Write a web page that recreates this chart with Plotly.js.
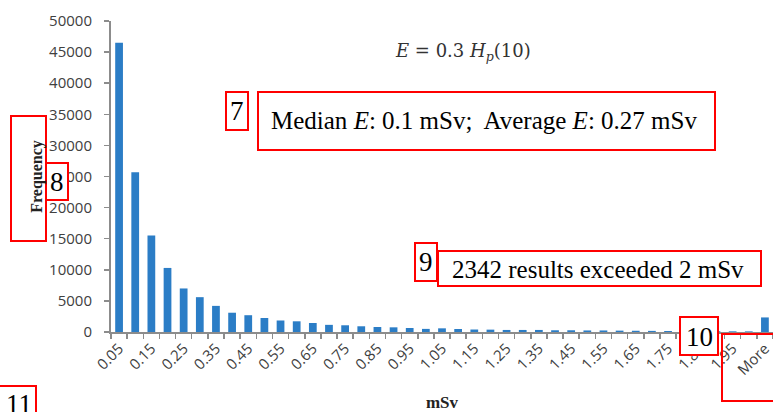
<!DOCTYPE html>
<html>
<head>
<meta charset="utf-8">
<script src="https://cdn.plot.ly/plotly-3.0.1.min.js"></script>
<style>html,body{margin:0;padding:0;background:#fff;}#chart{width:773px;height:412px;}</style>
</head>
<body>
<div id="chart"></div>
<script>
// Histogram bins (mSv) and frequencies
var categories = ['0.05','0.1','0.15','0.2','0.25','0.3','0.35','0.4','0.45','0.5',
  '0.55','0.6','0.65','0.7','0.75','0.8','0.85','0.9','0.95','1',
  '1.05','1.1','1.15','1.2','1.25','1.3','1.35','1.4','1.45','1.5',
  '1.55','1.6','1.65','1.7','1.75','1.8','1.85','1.9','1.95','2','More'];
var frequency = [46500, 25700, 15500, 10300, 7000, 5600, 4200, 3100, 2700, 2250,
  1850, 1720, 1450, 1150, 1080, 920, 800, 750, 640, 500,
  590, 480, 400, 380, 330, 330, 330, 280, 280, 250,
  250, 220, 200, 180, 160, 150, 130, 120, 110, 100, 2342];
var tickText = ['0.05','','0.15','','0.25','','0.35','','0.45','',
  '0.55','','0.65','','0.75','','0.85','','0.95','',
  '1.05','','1.15','','1.25','','1.35','','1.45','',
  '1.55','','1.65','','1.75','','1.85','','1.95','','More'];

var W = 773, H = 412, L = 111, R = 0, T = 21, B = 80;
var PW = W - L - R, PH = H - T - B;
function px(x){ return (x - L) / PW; }
function py(y){ return (H - B - y) / PH; }

var red = '#FF0000';
function box(x0, y0, x1, y1, fill){
  return {type:'rect', xref:'paper', yref:'paper', x0:px(x0), x1:px(x1), y0:py(y1), y1:py(y0),
    line:{color:red, width:2}, fillcolor: fill || 'rgba(0,0,0,0)', layer:'above'};
}
function label(text, x, y, size){
  return {text:text, xref:'paper', yref:'paper', x:px(x), y:py(y), xanchor:'center', yanchor:'middle',
    showarrow:false, font:{family:'Liberation Serif, Times New Roman, serif', size:size, color:'#000'}};
}

var trace = {
  type:'bar', x:categories, y:frequency,
  marker:{color:'#2B7DC6'}, hoverinfo:'x+y'
};

var layout = {
  width:W, height:H,
  margin:{l:L, r:R, t:T, b:B, pad:0},
  paper_bgcolor:'#fff', plot_bgcolor:'#fff',
  showlegend:false, bargap:0.52,
  xaxis:{
    type:'category', range:[-0.5, 40.5], tickvals:categories, ticktext:tickText,
    tickangle:-45, ticks:'outside', tickson:'boundaries', ticklen:5, tickwidth:1.5, tickcolor:'#8c8c8c',
    showline:true, linecolor:'#8c8c8c', linewidth:2, showgrid:false, zeroline:false,
    tickfont:{family:'Open Sans, sans-serif', size:15, color:'#404040'},
    title:{text:'<b>mSv</b>', font:{family:'Liberation Serif, serif', size:17, color:'#222'}, standoff:20}
  },
  yaxis:{
    range:[0, 50000], dtick:5000, ticks:'outside', ticklen:5, tickwidth:1.5, tickcolor:'#8c8c8c',
    showline:true, linecolor:'#8c8c8c', linewidth:2, showgrid:false, zeroline:false,
    tickformat:'d', ticklabelstandoff:9,
    tickfont:{family:'Open Sans, sans-serif', size:15, color:'#404040'},
    title:{text:'<b>Frequency</b>', font:{family:'Liberation Serif, serif', size:16, color:'#222'}, standoff:3}
  },
  shapes:[
    box(226, 92, 248, 130),
    box(258, 92, 715, 150),
    box(11, 116, 46, 241),
    box(46, 163, 68, 200, '#fff'),
    box(415, 243, 437, 281),
    box(438, 251, 761, 286),
    box(680, 317, 718, 355, '#fff'),
    box(722, 334, 782, 401),
    box(-5, 386, 36, 420)
  ],
  annotations:[
    {text:'<i>E</i> = 0.3 <i>H</i><sub><i>p</i></sub>(10)', xref:'paper', yref:'paper', x:px(463), y:py(52),
     xanchor:'center', yanchor:'middle', showarrow:false,
     font:{family:'DejaVu Serif, Liberation Serif, serif', size:18, color:'#333'}},
    label('7', 237, 111, 27),
    label('Median <i>E</i>: 0.1 mSv;\u00A0 Average <i>E</i>: 0.27 mSv', 484, 120, 25),
    label('8', 57, 182, 27),
    label('9', 426, 262, 27),
    label('2342 results exceeded 2 mSv', 598, 269, 25),
    label('10', 699, 337, 27),
    label('11', 19, 404, 27)
  ]
};

Plotly.newPlot('chart', [trace], layout, {staticPlot:true, displayModeBar:false});
</script>
</body>
</html>
